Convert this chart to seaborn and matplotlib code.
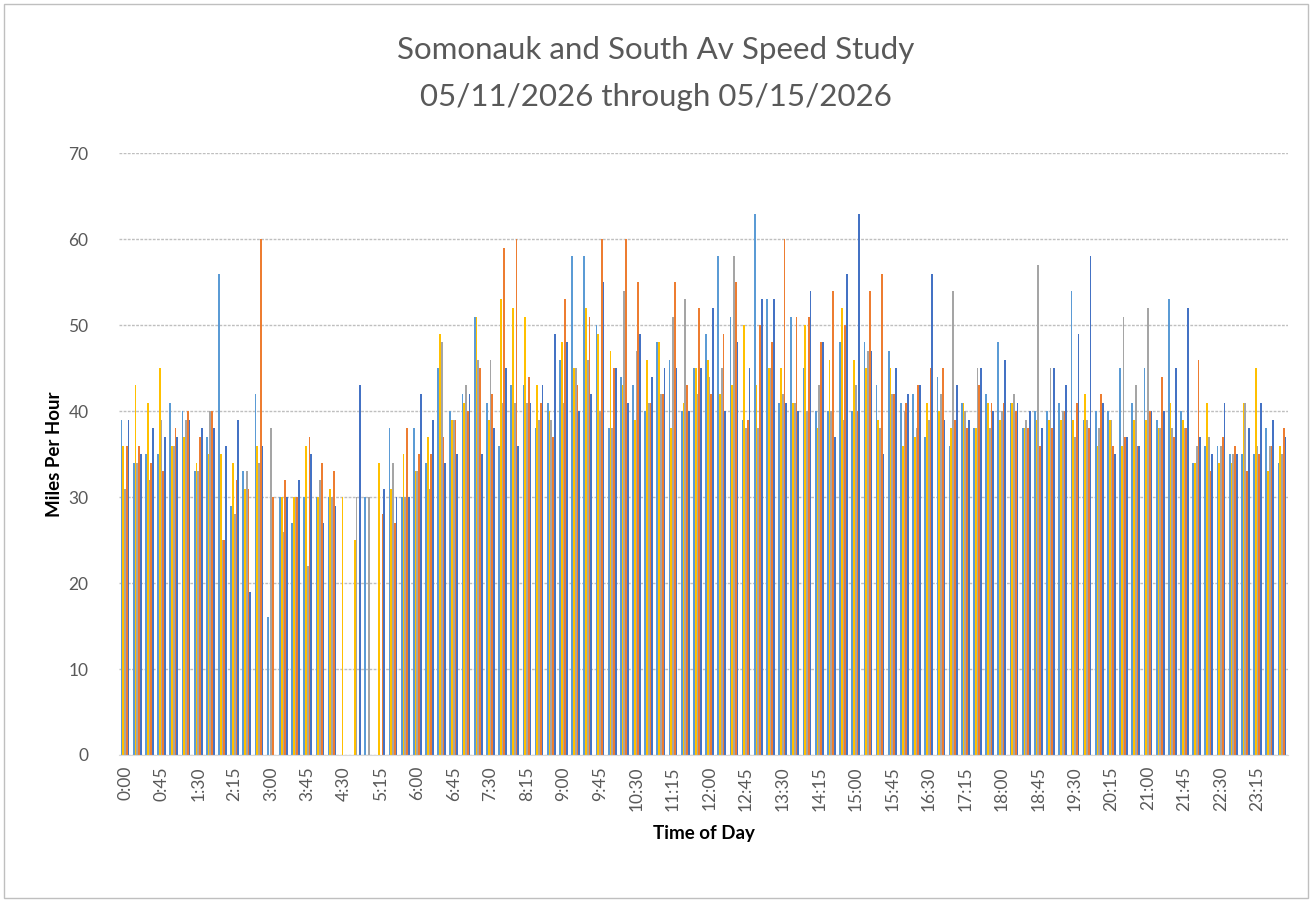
import numpy as np
import pandas as pd
import matplotlib
matplotlib.use('Agg')
import matplotlib.pyplot as plt
import seaborn as sns
from matplotlib.patches import Rectangle

# 15-minute time slots, one label per slot
times = [f"{h}:{m:02d}" for h in range(24) for m in (0, 15, 30, 45)]

days = ['05/11/2026', '05/12/2026', '05/13/2026', '05/14/2026', '05/15/2026']
colors = ['#5B9BD5', '#FFC000', '#A5A5A5', '#ED7D31', '#4472C4']

day1 = [39, 34, 35, 35, 41, 40, 33, 37, 56, 29, 33, 42, 16, 30, 27, 30, 30, 30, 0, 0,
        30, 0, 38, 30, 38, 34, 45, 40, 42, 51, 41, 36, 43, 43, 38, 41, 46, 58, 58, 50,
        38, 44, 43, 40, 48, 46, 40, 45, 49, 58, 51, 39, 63, 53, 41, 51, 45, 40, 40, 48,
        40, 48, 43, 47, 41, 42, 37, 44, 36, 41, 38, 42, 48, 41, 38, 40, 40, 41, 54, 39,
        40, 40, 45, 41, 45, 39, 53, 40, 34, 36, 36, 35, 35, 35, 38, 34]
day2 = [36, 43, 41, 45, 36, 37, 34, 35, 35, 34, 31, 36, 0, 30, 30, 36, 30, 31, 30, 25,
        0, 34, 31, 35, 33, 37, 49, 39, 41, 51, 39, 53, 52, 51, 43, 40, 48, 45, 52, 49,
        47, 43, 39, 46, 48, 38, 41, 45, 46, 42, 43, 50, 43, 45, 45, 41, 50, 38, 46, 52,
        46, 45, 39, 45, 36, 37, 41, 40, 38, 41, 38, 41, 39, 41, 38, 39, 39, 39, 39, 42,
        36, 39, 36, 39, 39, 38, 41, 39, 34, 41, 34, 34, 41, 45, 33, 36]
day3 = [31, 34, 32, 39, 36, 39, 33, 40, 25, 28, 33, 34, 38, 26, 30, 22, 32, 30, 0, 30,
        30, 0, 34, 30, 33, 31, 48, 39, 43, 46, 46, 41, 41, 41, 39, 39, 41, 45, 46, 40,
        38, 54, 47, 41, 42, 51, 53, 42, 44, 45, 58, 38, 38, 45, 42, 41, 40, 43, 40, 39,
        43, 47, 38, 42, 40, 38, 39, 42, 54, 40, 45, 38, 40, 42, 39, 57, 45, 40, 37, 39,
        38, 39, 51, 43, 52, 38, 38, 38, 36, 37, 36, 35, 41, 36, 36, 35]
day4 = [36, 36, 34, 33, 38, 40, 37, 40, 25, 32, 31, 60, 30, 32, 30, 37, 34, 33, 0, 0,
        0, 28, 27, 38, 35, 35, 37, 39, 40, 45, 42, 59, 60, 44, 41, 37, 53, 43, 51, 60,
        45, 60, 55, 41, 42, 55, 43, 52, 42, 49, 55, 39, 50, 48, 60, 51, 51, 48, 54, 50,
        40, 54, 56, 42, 41, 43, 45, 45, 39, 38, 43, 41, 41, 40, 38, 36, 38, 40, 41, 38,
        42, 36, 37, 36, 40, 44, 37, 38, 46, 33, 37, 36, 33, 35, 36, 38]
day5 = [39, 35, 38, 37, 37, 39, 38, 38, 36, 39, 19, 36, 0, 30, 32, 35, 27, 29, 0, 43,
        0, 31, 30, 30, 42, 39, 34, 35, 42, 35, 38, 45, 36, 41, 43, 49, 48, 40, 42, 55,
        45, 41, 49, 44, 45, 45, 40, 45, 52, 40, 48, 45, 53, 53, 41, 40, 54, 48, 37, 56,
        63, 47, 35, 45, 42, 43, 56, 39, 43, 39, 45, 40, 46, 41, 40, 38, 45, 43, 49, 58,
        41, 35, 37, 36, 40, 40, 45, 52, 37, 35, 41, 35, 38, 41, 39, 37]

series = [day1, day2, day3, day4, day5]
df = pd.DataFrame({
    'Time': np.tile(times, len(days)),
    'Day': np.repeat(days, len(times)),
    'MPH': np.concatenate(series),
})

text_grey = '#595959'
plt.rcParams['font.family'] = ['Lato', 'DejaVu Sans']

fig = plt.figure(figsize=(13.12, 9.02), dpi=100)
ax = fig.add_axes([0.0907, 0.163, 0.891, 0.667])

sns.barplot(data=df, x='Time', y='MPH', hue='Day', order=times, hue_order=days,
            palette=colors, width=0.72, saturation=1, linewidth=0,
            legend=False, errorbar=None, ax=ax)

ax.set_xlim(-0.5, len(times) - 0.5)
ax.set_ylim(0, 70)
ax.set_yticks(range(0, 71, 10))
ax.set_xticks(range(0, len(times), 3))
ax.set_xticklabels(times[::3], rotation=90, fontsize=12.5, color=text_grey)
ax.tick_params(axis='y', labelsize=12.5, labelcolor=text_grey, length=0, pad=22)
ax.tick_params(axis='x', length=0, pad=8)

ax.grid(axis='y', color='#BFBFBF', linestyle=(0, (2, 1)), linewidth=1)
ax.set_axisbelow(True)
for side in ['top', 'right', 'left']:
    ax.spines[side].set_visible(False)
ax.spines['bottom'].set_color('#D9D9D9')

ax.set_xlabel('Time of Day', fontsize=13.5, fontweight='bold', labelpad=10)
ax.set_ylabel('Miles Per Hour', fontsize=13.5, fontweight='bold', labelpad=4)

fig.text(0.5, 0.945, 'Somonauk and South Av Speed Study', ha='center', va='center',
         fontsize=22.5, color=text_grey)
fig.text(0.5, 0.892, '05/11/2026 through 05/15/2026', ha='center', va='center',
         fontsize=22.5, color=text_grey)

# thin chart-area border like the spreadsheet export
fig.patches.append(Rectangle((0.003, 0.004), 0.994, 0.992, transform=fig.transFigure,
                             fill=False, edgecolor='#BFBFBF', linewidth=1))

fig.savefig('out.png', dpi=100)
plt.close(fig)
